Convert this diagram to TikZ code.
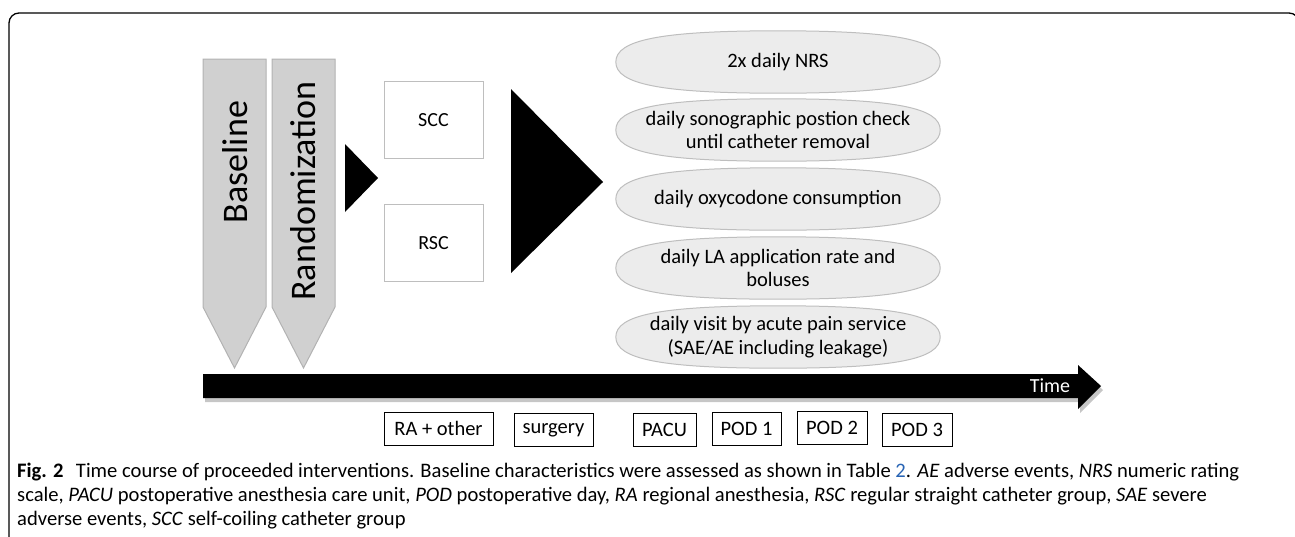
\documentclass[tikz,border=0pt]{standalone}
\usepackage{fontspec}
\setmainfont{Carlito}
\usepackage{xcolor}
\usetikzlibrary{backgrounds}

\definecolor{penfill}{RGB}{208,208,208}
\definecolor{pendraw}{RGB}{178,178,178}
\definecolor{ellfill}{RGB}{236,236,236}
\definecolor{elldraw}{RGB}{190,190,190}
\definecolor{boxdraw}{RGB}{190,190,190}
\definecolor{linkblue}{RGB}{40,100,180}

\begin{document}
\begin{tikzpicture}[x=1pt,y=-1pt,
  pennant/.style={fill=penfill,draw=pendraw,line width=1pt},
  pentext/.style={rotate=90,anchor=base,inner sep=0pt,font=\fontsize{36}{40}\selectfont},
  group/.style={draw=boxdraw,line width=1pt,minimum width=99pt,minimum height=77pt,inner sep=0pt,font=\fontsize{20}{24}\selectfont},
  measure/.style={minimum width=324pt,minimum height=62pt,inner sep=0pt,align=center,font=\fontsize{20.5}{23.5}\selectfont},
  oval/.style={draw=elldraw,fill=ellfill,line width=1pt},
  day/.style={draw=black,line width=0.9pt,minimum height=33pt,inner sep=0pt,font=\fontsize{20.5}{24}\selectfont},
  captext/.style={anchor=base west,inner sep=0pt,font=\fontsize{20.6}{24}\selectfont}]

\useasboundingbox (0,0) rectangle (1295,536);
\clip (0,0) rectangle (1295,536);

% Frame
\draw[line width=1.3pt,rounded corners=10pt] (9,560) -- (9,13) -- (1299,13) -- (1299,560);

% Pennants
\draw[pennant] (203,59) -- (266,59) -- (266,307) -- (234.5,368) -- (203,307) -- cycle;
\draw[pennant] (272,59) -- (335,59) -- (335,307) -- (303.5,368) -- (272,307) -- cycle;
\node[pentext] (baseline) at (247,162) {Baseline};
\node[pentext] (random) at (315,191) {Randomization};

% Groups
\fill (345,144) -- (378,178) -- (345,212) -- cycle;
\node[group] (scc) at (433.5,120) {SCC};
\node[group] (rsc) at (433.5,243) {RSC};
\fill (511,89) -- (603,182) -- (511,273) -- cycle;

% Daily measurements
\node[measure] (nrs)   at (778,62)  {2x daily NRS};
\node[measure] (sono)  at (778,130) {daily sonographic postion check\\until catheter removal};
\node[measure] (oxy)   at (778,199) {daily oxycodone consumption};
\node[measure] (la)    at (778,268) {daily LA application rate and\\boluses};
\node[measure] (visit) at (778,337) {daily visit by acute pain service\\(SAE/AE including leakage)};
\begin{pgfonlayer}{background}
\foreach \n in {nrs,sono,oxy,la,visit}
  \draw[oval] (\n.west) .. controls +(0,-22) and +(-118,0) .. (\n.north)
    .. controls +(118,0) and +(0,-22) .. (\n.east)
    .. controls +(0,22) and +(118,0) .. (\n.south)
    .. controls +(-118,0) and +(0,22) .. (\n.west) -- cycle;
\end{pgfonlayer}

% Time axis
\fill[gray!45] (205,378) -- (1080,378) -- (1080,369) -- (1103,390) -- (1080,413) -- (1080,402) -- (205,402) -- cycle;
\fill (203,374) -- (1078,374) -- (1078,365) -- (1101,386) -- (1078,409) -- (1078,398) -- (203,398) -- cycle;
\node[white,font=\fontsize{20}{24}\selectfont] (time) at (1050,386) {Time};

% Time points
\node[day,minimum width=109pt] (ra)      at (438.5,428.5) {RA + other};
\node[day,minimum width=79pt]  (surgery) at (553.5,430)   {surgery};
\node[day,minimum width=63pt]  (pacu)    at (664.5,430)   {PACU};
\node[day,minimum width=69pt]  (pod1)    at (746.5,428.5) {POD 1};
\node[day,minimum width=70pt]  (pod2)    at (832,428)     {POD 2};
\node[day,minimum width=70pt]  (pod3)    at (917,430)     {POD 3};

% Caption
\node[captext] (cap1) at (17,477) {\textbf{Fig. 2}\hspace{0.6em}Time course of proceeded interventions. Baseline characteristics were assessed as shown in Table \textcolor{linkblue}{2}. \textit{AE} adverse events, \textit{NRS} numeric rating};
\node[captext] (cap2) at (17,501) {scale, \textit{PACU} postoperative anesthesia care unit, \textit{POD} postoperative day, \textit{RA} regional anesthesia, \textit{RSC} regular straight catheter group, \textit{SAE} severe};
\node[captext] (cap3) at (17,525) {adverse events, \textit{SCC} self-coiling catheter group};

\end{tikzpicture}
\end{document}
